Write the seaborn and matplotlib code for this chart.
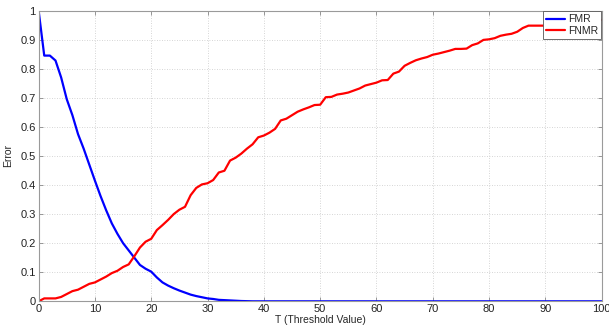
import numpy as np
import pandas as pd
import matplotlib
matplotlib.use("Agg")
import matplotlib.pyplot as plt
import seaborn as sns

threshold = list(range(0, 101))

fmr = [1.0, 0.845, 0.845, 0.828, 0.77, 0.695, 0.64, 0.575, 0.525, 0.47,
       0.415, 0.362, 0.313, 0.268, 0.232, 0.2, 0.175, 0.15, 0.125, 0.112,
       0.102, 0.082, 0.065, 0.054, 0.045, 0.037, 0.03, 0.023, 0.018, 0.014,
       0.01, 0.008, 0.005, 0.004, 0.003, 0.002, 0.001, 0.0005] + [0.0] * 63

fnmr = [0.0, 0.01, 0.01, 0.01, 0.015, 0.025, 0.035, 0.04, 0.05, 0.06,
        0.065, 0.075, 0.085, 0.097, 0.105, 0.118, 0.127, 0.155, 0.185, 0.205,
        0.215, 0.245, 0.262, 0.28, 0.30, 0.315, 0.325, 0.365, 0.39, 0.402,
        0.406, 0.417, 0.443, 0.449, 0.484, 0.494, 0.508, 0.525, 0.54, 0.564,
        0.57, 0.58, 0.593, 0.622, 0.628, 0.64, 0.652, 0.66, 0.667, 0.675,
        0.676, 0.702, 0.703, 0.711, 0.714, 0.718, 0.725, 0.732, 0.742, 0.747,
        0.752, 0.76, 0.761, 0.783, 0.79, 0.81, 0.82, 0.829, 0.835, 0.84,
        0.848, 0.852, 0.857, 0.862, 0.868, 0.868, 0.869, 0.881, 0.887, 0.899,
        0.901, 0.905, 0.913, 0.917, 0.92, 0.927, 0.94, 0.948, 0.948, 0.948,
        0.948, 0.95, 0.952, 0.954, 0.956, 0.958, 0.96, 0.962, 0.964, 0.966, 0.968]

series_names = ["FMR", "FNMR"]

df = pd.DataFrame({
    "T": threshold * 2,
    "Error": fmr + fnmr,
    "Series": [series_names[0]] * len(threshold) + [series_names[1]] * len(threshold),
})

sns.set_style("white")
plt.rcParams['font.family'] = ['Liberation Sans', 'DejaVu Sans']

fig = plt.figure(figsize=(6.09, 3.31), dpi=100)
ax = fig.add_axes([0.0634, 0.0897, 0.9246, 0.8785])

sns.lineplot(data=df, x="T", y="Error", hue="Series",
             palette={"FMR": "#0000ff", "FNMR": "#ff0000"},
             linewidth=1.6, ax=ax, estimator=None)

ax.set_xlim(0, 100)
ax.set_ylim(0, 1)
ax.set_xticks(np.arange(0, 101, 10))
ax.set_yticks(np.arange(0, 1.01, 0.1))
ax.set_yticklabels(["0", "0.1", "0.2", "0.3", "0.4", "0.5", "0.6", "0.7", "0.8", "0.9", "1"])
ax.grid(True, linestyle=(0, (1, 2)), color="#c8c8c8", linewidth=0.6)
ax.tick_params(direction="in", length=3, width=0.6, colors="#888888",
               labelcolor="#222222", labelsize=8, top=True, right=True,
               bottom=True, left=True, pad=2)
for s in ax.spines.values():
    s.set_color("#9a9a9a")
    s.set_linewidth(0.8)

ax.set_xlabel("T (Threshold Value)", fontsize=7.5, labelpad=1)
ax.set_ylabel("Error", fontsize=7.5, labelpad=5)

leg = ax.legend(loc="upper right", fontsize=7.5, frameon=True, fancybox=False,
                borderaxespad=0.05, handlelength=1.8, handletextpad=0.3,
                borderpad=0.3, labelspacing=0.15)
leg.get_frame().set_edgecolor("#555555")
leg.get_frame().set_linewidth(0.6)
leg.get_frame().set_alpha(1)
leg.set_zorder(10)
for l in leg.get_lines():
    l.set_linewidth(1.6)

fig.savefig("out.png", dpi=100)
